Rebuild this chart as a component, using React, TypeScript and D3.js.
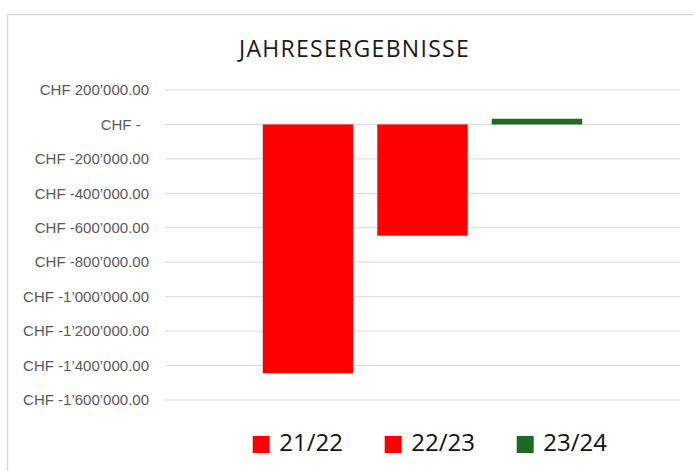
import React from "react";
import * as d3 from "d3";

const title = "JAHRESERGEBNISSE";
const seriesNames = ["21/22", "22/23", "23/24"];
const seriesValues = [-1445000, -646000, 33000];
const seriesColors = ["#ff0000", "#ff0000", "#1b6b22"];
const yTicks = [200000, 0, -200000, -400000, -600000, -800000, -1000000, -1200000, -1400000, -1600000];

const W = 693;
const H = 471;

function fmtCHF(v: number): string {
  if (v === 0) return "CHF -\u00a0\u00a0";
  const abs = Math.abs(v);
  const s = d3.format(",.2f")(abs).replace(/,/g, "\u2019");
  return "CHF " + (v < 0 ? "-" : "") + s;
}

export default function App() {
  const plotLeft = 165;
  const plotRight = 680;
  const y = d3.scaleLinear().domain([-1600000, 200000]).range([400, 90]);
  const x = d3
    .scaleBand<string>()
    .domain(seriesNames)
    .range([plotLeft, plotRight])
    .paddingInner(0.21)
    .paddingOuter(0.854);

  const legendX = d3.scalePoint<string>().domain(seriesNames).range([252.7, 516.7]);

  return (
    <svg
      width={W}
      height={H}
      style={{ position: "absolute", left: 0, top: 0, background: "#fff" }}
    >
      <rect x={0} y={0} width={W} height={H} fill="#fff" />
      <line x1={7.5} y1={14.5} x2={W} y2={14.5} stroke="#d9d9d9" strokeWidth={1.5} />
      <line x1={7.5} y1={14.5} x2={7.5} y2={H} stroke="#d9d9d9" strokeWidth={1.5} />

      <text
        x={354.5}
        y={56.5}
        textAnchor="middle"
        fontFamily="'Open Sans', sans-serif"
        fontSize={23}
        letterSpacing={1.3}
        fill="#1a1a1a"
      >
        {title}
      </text>

      {yTicks.map((t) => (
        <g key={t}>
          <line
            x1={plotLeft}
            x2={plotRight}
            y1={y(t)}
            y2={y(t)}
            stroke="#d9d9d9"
            strokeWidth={1}
          />
          <text
            x={149}
            y={y(t)}
            dy="0.35em"
            textAnchor="end"
            fontFamily="'Liberation Sans', Arial, sans-serif"
            fontSize={15}
            fill="#595959"
            style={{ whiteSpace: "pre" }}
          >
            {fmtCHF(t)}
          </text>
        </g>
      ))}

      {seriesNames.map((s, i) => {
        const v = seriesValues[i];
        const y0 = y(0);
        const y1 = y(v);
        return (
          <rect
            key={s}
            x={x(s)}
            width={x.bandwidth()}
            y={Math.min(y0, y1)}
            height={Math.abs(y1 - y0)}
            fill={seriesColors[i]}
          />
        );
      })}

      {seriesNames.map((s, i) => {
        const lx = legendX(s) as number;
        return (
          <g key={"lg" + s}>
            <rect x={lx} y={436} width={17} height={17} fill={seriesColors[i]} />
            <text
              x={lx + 26.6}
              y={450.7}
              fontFamily="'Open Sans', sans-serif"
              fontSize={24}
              fill="#111"
            >
              {s}
            </text>
          </g>
        );
      })}
    </svg>
  );
}
